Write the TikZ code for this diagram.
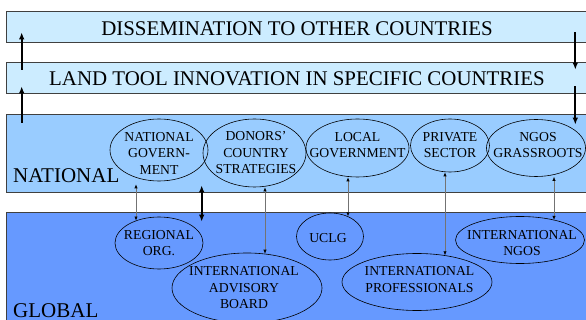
\documentclass[tikz,border=0pt]{standalone}
\usepackage{fontspec}
\setmainfont{Liberation Serif}
\usetikzlibrary{shapes.geometric,arrows.meta}
\definecolor{paleblue}{RGB}{204,236,255}
\definecolor{natblue}{RGB}{153,204,255}
\definecolor{globblue}{RGB}{102,153,255}
\tikzset{
  band/.style={draw=black!75, line width=.6pt, inner sep=0pt, minimum width=582pt,
    font=\fontsize{20.9}{24}\selectfont, text height=17.3pt},
  oval/.style={ellipse, draw, line width=.6pt, inner sep=0pt},
  otext/.style={align=center, inner sep=0pt, font=\fontsize{13.7}{16.5}\selectfont},
  level/.style={anchor=base west, inner sep=0pt, font=\fontsize{21}{25}\selectfont},
  flow/.style={line width=2pt, -{Latex[length=7pt,width=5.5pt]}},
  link/.style={draw=black!55, line width=.6pt,
    arrows={Latex[length=4pt,width=3.2pt,color=black]-Latex[length=4pt,width=3.2pt,color=black]}}
}
\begin{document}
\begin{tikzpicture}[x=1pt,y=-1pt]
      \useasboundingbox (0,0) rectangle (586,320);
      \clip (0,0) rectangle (586,320);
      \node[band, fill=paleblue, minimum height=31pt] (dissem) at (297,26.5) {DISSEMINATION TO OTHER COUNTRIES};
      \node[band, fill=paleblue, minimum height=31pt] (land) at (297,77.5) {LAND TOOL INNOVATION IN SPECIFIC COUNTRIES};
      \node[band, fill=natblue, minimum height=78pt] (natl) at (297,153) {};
      \node[band, fill=globblue, minimum height=128pt] (glob) at (297,276) {};
      \node[level] (natlab) at (13,183) {NATIONAL};
      \node[level] (globlab) at (13,317) {GLOBAL};
      \node[oval, minimum width=98pt, minimum height=62pt] (natgov) at (159,150) {};
      \node[oval, minimum width=103pt, minimum height=68pt] (donors) at (254.5,153) {};
      \node[oval, minimum width=103pt, minimum height=58pt] (local) at (357.5,148) {};
      \node[oval, minimum width=79pt, minimum height=53pt] (private) at (450,145.5) {};
      \node[oval, minimum width=99pt, minimum height=57pt] (ngos) at (536,148) {};
      \node[oval, minimum width=88pt, minimum height=52pt] (regorg) at (159,243) {};
      \node[oval, minimum width=150pt, minimum height=70pt] (advisory) at (247,288) {};
      \node[oval, minimum width=67pt, minimum height=47pt] (uclg) at (330,236.5) {};
      \node[oval, minimum width=150pt, minimum height=57pt] (profs) at (417,282) {};
      \node[oval, minimum width=129pt, minimum height=47pt] (intngos) at (520,240) {};
      \node[otext] (natgovt) at (159,153) {NATIONAL\\GOVERN-\\MENT};
      \node[otext] (donorst) at (256,153) {DONORS'\\COUNTRY\\STRATEGIES};
      \node[otext] (localt) at (357.5,145) {LOCAL\\GOVERNMENT};
      \node[otext] (privatet) at (450,145) {PRIVATE\\SECTOR};
      \node[otext] (ngost) at (538,145) {NGOS\\GRASSROOTS};
      \node[otext] (regorgt) at (159,243) {REGIONAL\\ORG.};
      \node[otext] (advisoryt) at (244,288) {INTERNATIONAL\\ADVISORY\\BOARD};
      \node[otext] (uclgt) at (328,238) {UCLG};
      \node[otext] (profst) at (419.5,279.5) {INTERNATIONAL\\PROFESSIONALS};
      \node[otext] (intngost) at (522,243) {INTERNATIONAL\\NGOS};
      \draw[flow] ([xshift=16pt,yshift=-8pt]land.north west) -- ([xshift=16pt,yshift=10pt]dissem.south west);
      \draw[flow] ([xshift=16pt,yshift=-9pt]natl.north west) -- ([xshift=16pt,yshift=7pt]land.south west);
      \draw[flow] ([xshift=-13pt,yshift=10pt]dissem.south east) -- ([xshift=-13pt,yshift=-8pt]land.north east);
      \draw[flow] ([xshift=-13pt,yshift=7pt]land.south east) -- ([xshift=-13pt,yshift=-11pt]natl.north east);
      \draw[flow, {Latex[length=7pt,width=5.5pt]}-{Latex[length=7pt,width=5.5pt]}]
        ([xshift=196pt,yshift=7pt]natl.south west) -- ([xshift=196pt,yshift=-10pt]glob.north west);
      \begin{scope}[link]
        \draw ([xshift=-23pt,yshift=-3pt]natgov.south) coordinate (c1) -- (c1 |- regorg.136);
        \draw ([xshift=10.5pt]donors.south) coordinate (c2) -- (c2 |- advisory.62);
        \draw ([xshift=-9.5pt]local.south) coordinate (c3) -- (c3 |- uclg.48);
        \draw ([xshift=-5pt]private.south) coordinate (c4) -- (c4 |- profs.43);
        \draw ([xshift=18pt]ngos.south) coordinate (c5) -- (c5 |- intngos.30);
      \end{scope}
    \end{tikzpicture}
\end{document}
